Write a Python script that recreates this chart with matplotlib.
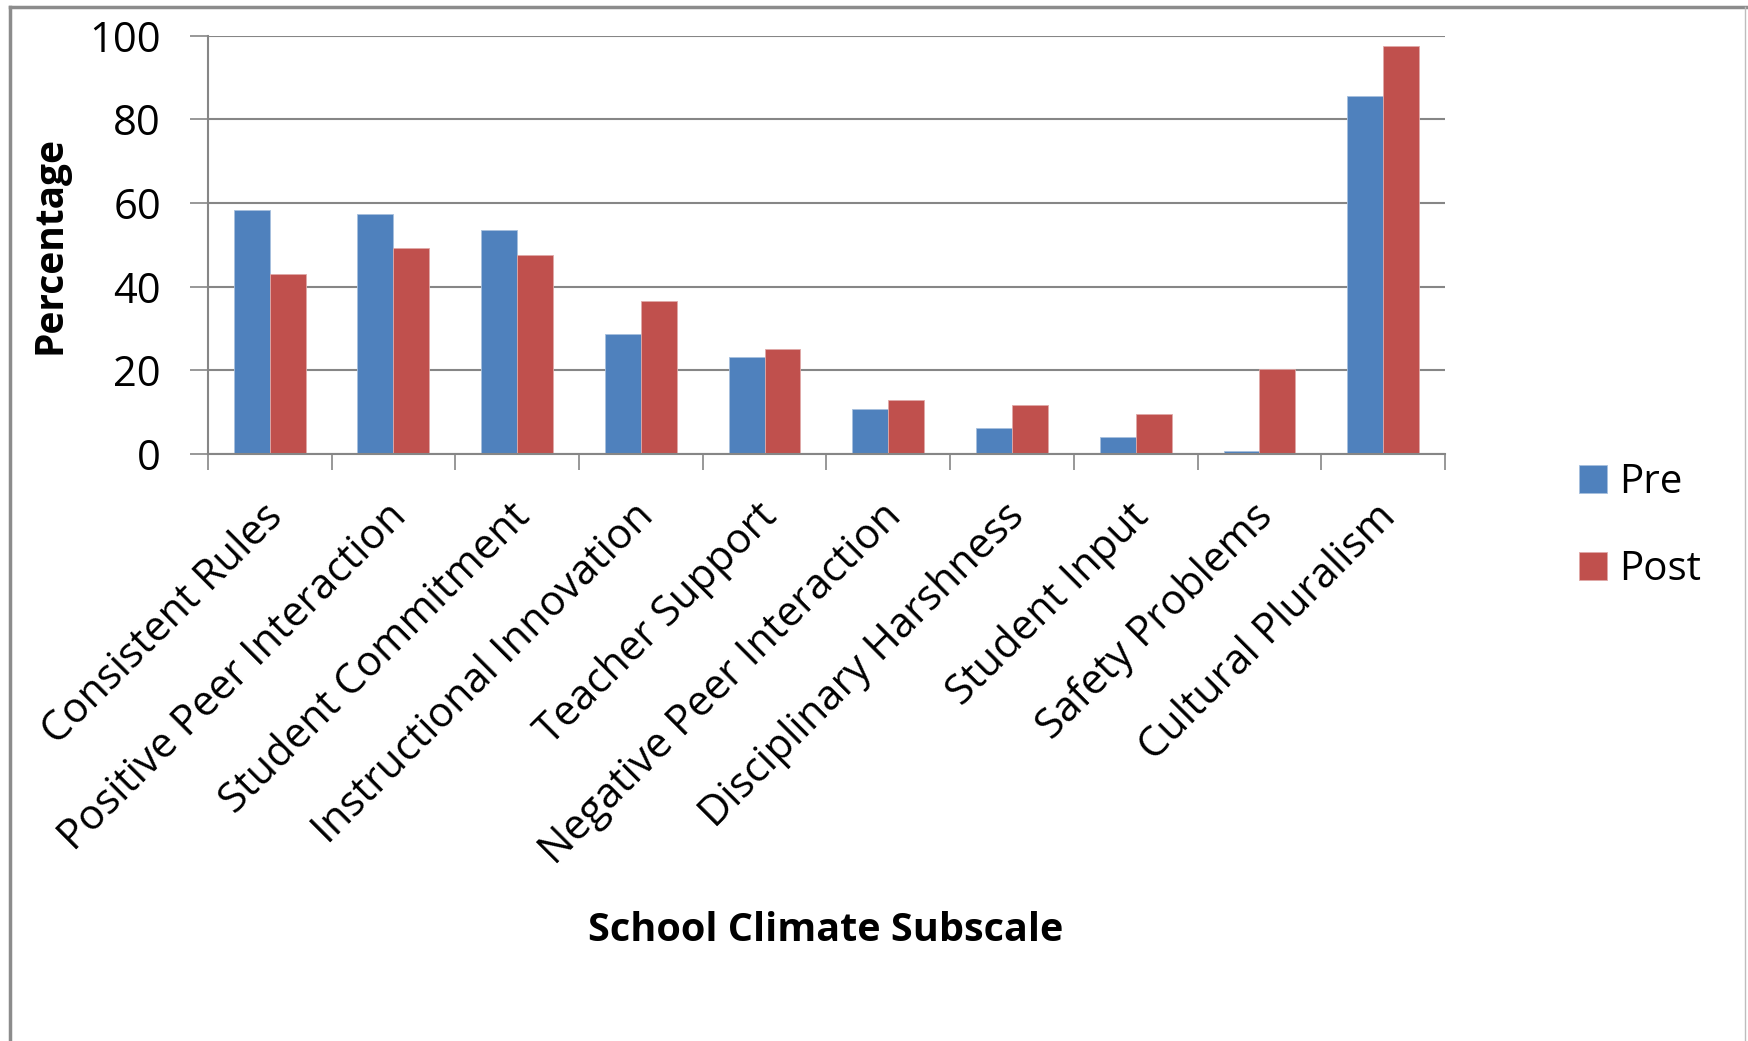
import numpy as np
import matplotlib.pyplot as plt
from matplotlib.lines import Line2D

plt.rcParams['font.family'] = ['Open Sans', 'DejaVu Sans']

subscales = ['Consistent Rules', 'Positive Peer Interaction', 'Student Commitment',
             'Instructional Innovation', 'Teacher Support', 'Negative Peer Interaction',
             'Disciplinary Harshness', 'Student Input', 'Safety Problems', 'Cultural Pluralism']
pre = [58.4, 57.4, 53.6, 28.8, 23.3, 10.7, 6.2, 4.0, 0.8, 85.5]
post = [43.1, 49.2, 47.5, 36.5, 25.0, 12.9, 11.8, 9.5, 20.3, 97.6]
y_ticks = [0, 20, 40, 60, 80, 100]

blue = '#4F81BD'
red = '#C0504D'
grid_gray = '#868686'

fig = plt.figure(figsize=(17.49, 10.41), dpi=100)
ax = fig.add_axes([0.1188, 0.5639, 0.7074, 0.4018])

x = np.arange(len(subscales))
w = 0.29
ax.bar(x - w / 2, pre, w, color=blue, edgecolor='#A7C0DE', linewidth=0.6, label='Pre', zorder=3)
ax.bar(x + w / 2, post, w, color=red, edgecolor='#E0A9A8', linewidth=0.6, label='Post', zorder=3)

ax.set_xlim(-0.5, len(subscales) - 0.5)
ax.set_ylim(0, 100)
ax.set_yticks(y_ticks)
ax.yaxis.grid(True, color=grid_gray, linewidth=1.5, zorder=0)
ax.tick_params(axis='y', length=12.7, width=1.2, color=grid_gray, pad=21, labelsize=30)

# tick marks sit on the category boundaries; labels are placed by hand below
ax.set_xticks(np.arange(-0.5, len(subscales)))
ax.set_xticklabels([])
ax.tick_params(axis='x', length=11.5, width=1.2, color=grid_gray)
for i, name in enumerate(subscales):
    ax.annotate(name, xy=(x[i], 0), xycoords=('data', 'axes fraction'),
                xytext=(-6, -30), textcoords='offset points',
                rotation=45, rotation_mode='anchor', ha='right', va='top',
                fontsize=30)

for side in ['top', 'right']:
    ax.spines[side].set_visible(False)
for side in ['left', 'bottom']:
    ax.spines[side].set_color(grid_gray)
    ax.spines[side].set_linewidth(1.5)
    ax.spines[side].set_zorder(4)

ax.set_ylabel('Percentage', fontsize=28, fontweight='bold')
ax.yaxis.set_label_coords(-0.112, 0.5)
fig.text(0.472, 0.1066, 'School Climate Subscale', fontsize=28.5, fontweight='bold',
         ha='center', va='center')

fig.legend(loc='center left', bbox_to_anchor=(0.9028, 0.4942), frameon=False,
           fontsize=29, handlelength=0.7, handleheight=0.7, handletextpad=0.3,
           labelspacing=1.15, borderpad=0, borderaxespad=0)

# chart border
fig.add_artist(Line2D([0.006, 0.006], [0, 0.993], color='#8C8C8C', linewidth=2.5))
fig.add_artist(Line2D([0.006, 1.0], [0.993, 0.993], color='#8C8C8C', linewidth=2.5))
fig.add_artist(Line2D([0.9977, 0.9977], [0, 0.993], color='#BDBDBD', linewidth=1))

fig.savefig('out.png', dpi=100)
